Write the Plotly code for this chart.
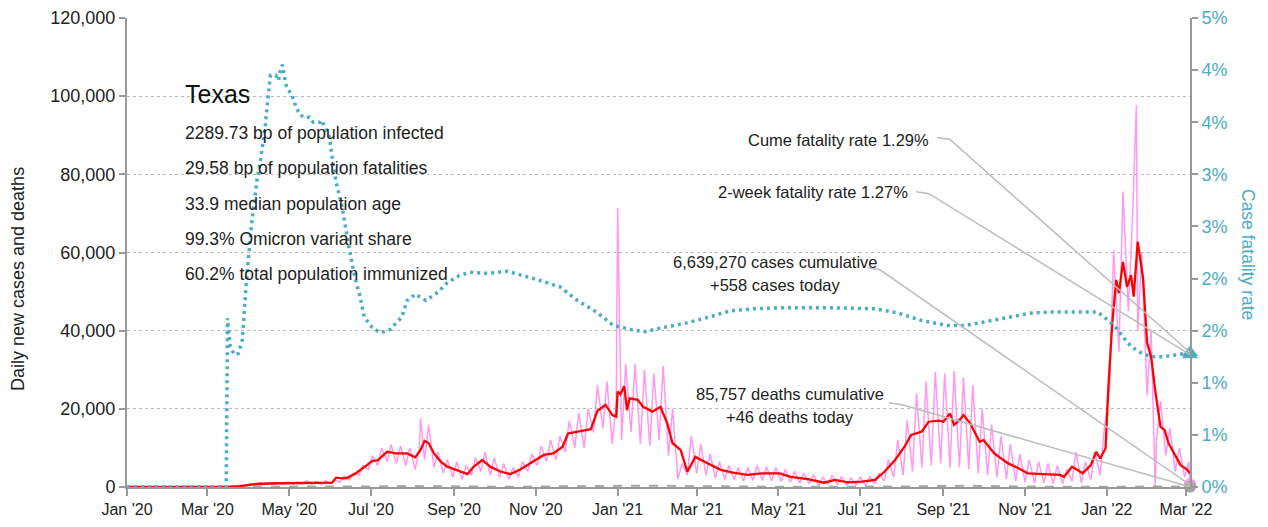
import pandas as pd
import plotly.graph_objects as go

# ---------------- data ----------------
# 7-day average of daily new cases (red line)
avg_dates = ["2020-01-01", "2020-03-01", "2020-03-15", "2020-03-25", "2020-04-05", "2020-04-15",
             "2020-05-01", "2020-05-15", "2020-06-02", "2020-06-05", "2020-06-10", "2020-06-13",
             "2020-06-20", "2020-06-28", "2020-07-02", "2020-07-06", "2020-07-13", "2020-07-20",
             "2020-07-28", "2020-08-03", "2020-08-07", "2020-08-10", "2020-08-13", "2020-08-17",
             "2020-08-22", "2020-08-27", "2020-09-03", "2020-09-11", "2020-09-15", "2020-09-22",
             "2020-09-28", "2020-10-06", "2020-10-13", "2020-10-20", "2020-10-30", "2020-11-07",
             "2020-11-14", "2020-11-21", "2020-11-25", "2020-12-02", "2020-12-12", "2020-12-17",
             "2020-12-23", "2020-12-28", "2020-12-31", "2021-01-01", "2021-01-03", "2021-01-06",
             "2021-01-08", "2021-01-10", "2021-01-16", "2021-01-20", "2021-01-24", "2021-01-27",
             "2021-02-02", "2021-02-07", "2021-02-11", "2021-02-17", "2021-02-22", "2021-02-28",
             "2021-03-09", "2021-03-19", "2021-03-28", "2021-04-08", "2021-04-18", "2021-05-02",
             "2021-05-10", "2021-05-23", "2021-06-04", "2021-06-12", "2021-06-22", "2021-07-02",
             "2021-07-12", "2021-07-19", "2021-07-27", "2021-08-03", "2021-08-08", "2021-08-16",
             "2021-08-21", "2021-08-29", "2021-09-01", "2021-09-06", "2021-09-09", "2021-09-13",
             "2021-09-16", "2021-09-21", "2021-09-28", "2021-10-01", "2021-10-09", "2021-10-19",
             "2021-10-27", "2021-11-03", "2021-11-15", "2021-11-27", "2021-11-30", "2021-12-06",
             "2021-12-14", "2021-12-20", "2021-12-24", "2021-12-27", "2021-12-31", "2022-01-02",
             "2022-01-05", "2022-01-08", "2022-01-10", "2022-01-13", "2022-01-16", "2022-01-19",
             "2022-01-21", "2022-01-24", "2022-01-28", "2022-01-31", "2022-02-03", "2022-02-06",
             "2022-02-10", "2022-02-13", "2022-02-16", "2022-02-20", "2022-02-25", "2022-03-02",
             "2022-03-04"]
avg_cases = [0, 0, 20, 200, 700, 900,
             1000, 1050, 1100, 2400, 2200, 2300,
             3600, 5600, 6700, 6800, 9000, 8600,
             8600, 7600, 9500, 11800, 11200, 8600,
             6500, 5200, 4400, 3300, 5000, 6900,
             5200, 3900, 3300, 4400, 6500, 8200,
             8600, 10300, 13700, 14100, 14800, 19500,
             21000, 18400, 18000, 24400, 23700, 25800,
             19700, 22700, 22300, 20500, 19700, 19300,
             20500, 16300, 11200, 9500, 3900, 7700,
             6100, 4400, 3700, 3100, 3500, 3500,
             2600, 2000, 1100, 1800, 1200, 1400,
             1800, 3900, 6900, 10300, 13300, 14200,
             16700, 17000, 16700, 18800, 15900, 17100,
             18400, 16300, 11600, 12000, 8600, 6100,
             4800, 3500, 3300, 3100, 2600, 5200,
             3500, 5600, 9000, 7300, 9900, 24800,
             41900, 53000, 49600, 57600, 51200, 54200,
             48700, 62800, 53400, 36800, 33300, 24800,
             15400, 14600, 11200, 8600, 5600, 4400,
             3500]

# Daily new cases (pink): weekly low (Mondays) and weekly high (Thursdays), from week of 2020-01-06
week_start = "2020-01-06"
daily_lo = [0, 0, 0, 0,                      # Jan 2020
            0, 0, 0, 0,                      # Feb
            0, 2, 30, 150, 400,              # Mar
            600, 700, 600, 800,              # Apr
            700, 800, 700, 700,              # May
            900, 1200, 1800, 3000, 4500,     # Jun
            5500, 6500, 6000, 5500,          # Jul
            4500, 7000, 5000, 3500, 2500,    # Aug
            2000, 3000, 4000, 3000,          # Sep
            2500, 2000, 2500, 4000,          # Oct
            5500, 6500, 7000, 9000, 10000,   # Nov
            10000, 14000, 15000, 11000,      # Dec
            12000, 14000, 11000, 10500,      # Jan 2021
            12000, 8000, 2000, 3000,         # Feb
            3500, 3000, 2200, 2000, 1800,    # Mar
            1500, 1700, 1700, 1600,          # Apr
            1400, 1200, 1000, 800, 300,      # May
            600, 600, 500, 500,              # Jun
            300, 800, 1500, 2500,            # Jul
            3000, 4000, 5000, 5500, 6000,    # Aug
            5000, 5000, 4500, 3500,          # Sep
            3000, 2500, 2000, 1500,          # Oct
            1200, 1000, 1000, 800, 800,      # Nov
            1500, 1000, 1800, 3000,          # Dec
            25000, 34600, 45000, 40000, 23500,  # Jan 2022
            12000, 8000, 4000, 2500]         # Feb
daily_hi = [0, 0, 0, 0,
            0, 0, 0, 0,
            1, 8, 80, 350, 800,
            1100, 1000, 1000, 1300,
            1300, 1600, 1500, 1600,
            1700, 2800, 3500, 5500, 8000,
            10000, 10800, 10500, 10000,
            9500, 15800, 9000, 7000, 6500,
            5500, 7500, 9000, 7500,
            6000, 5000, 6500, 8500,
            10500, 12000, 13000, 17000, 19000,
            20000, 26000, 27000, 22000,
            31500, 31500, 30000, 29000,
            31000, 20000, 6000, 13000,
            11000, 8500, 6500, 5500, 5000,
            5000, 5500, 5200, 5000,
            4500, 4000, 3500, 3200, 2500,
            3000, 2600, 2300, 2600,
            2800, 3500, 7000, 12000,
            17000, 24000, 27000, 29500, 29000,
            29700, 28000, 26000, 20000,
            16000, 13000, 11000, 8500,
            7000, 6500, 6000, 5500, 4500,
            9000, 6500, 9000, 14600,
            60600, 75600, 67900, 60000, 40000,
            22000, 15000, 10000, 6500]
# single-day reports outside the weekly pattern
extra_dates = ["2020-01-01", "2020-06-04", "2020-08-07", "2021-01-01", "2022-01-23", "2022-02-06", "2022-03-04"]
extra_cases = [0, 7900, 17600, 71400, 97700, 0, 558]

# Daily deaths (grey dashed), weekly (Mondays) from week of 2020-01-06
daily_deaths = [0, 0, 0, 0, 0, 0, 0, 0,
                0, 0, 1, 5, 15,
                25, 35, 30, 30,
                30, 30, 25, 25,
                25, 25, 30, 35, 45,
                80, 120, 170, 250,
                220, 200, 180, 150, 130,
                110, 100, 90, 80,
                70, 70, 75, 80,
                90, 110, 130, 150, 170,
                200, 230, 250, 280,
                300, 330, 350, 380,
                350, 320, 250, 220,
                200, 150, 120, 100, 80,
                60, 55, 50, 45,
                40, 40, 35, 30, 30,
                30, 25, 25, 25,
                25, 30, 40, 60,
                100, 150, 200, 250, 300,
                330, 340, 320, 280,
                230, 180, 150, 110,
                80, 70, 60, 55, 55,
                60, 60, 65, 70,
                80, 100, 140, 180, 220,
                240, 220, 180, 120]

last_date = "2022-03-04"
cases_today = 558
deaths_today = 46
cases_cumulative = 6639270
deaths_cumulative = 85757

# Case fatality rate (%), dotted teal line, right axis
cfr_dates = ["2020-01-01", "2020-03-15", "2020-03-16", "2020-03-18", "2020-03-21", "2020-03-24",
             "2020-03-27", "2020-03-30", "2020-04-03", "2020-04-07", "2020-04-10", "2020-04-13",
             "2020-04-15", "2020-04-17", "2020-04-21", "2020-04-23", "2020-04-25", "2020-04-26",
             "2020-04-28", "2020-04-29", "2020-05-03", "2020-05-06", "2020-05-09", "2020-05-14",
             "2020-05-16", "2020-05-19", "2020-05-24", "2020-05-25", "2020-05-28", "2020-05-31",
             "2020-06-02", "2020-06-05", "2020-06-09", "2020-06-12", "2020-06-15", "2020-06-19",
             "2020-06-23", "2020-06-26", "2020-07-02", "2020-07-08", "2020-07-15", "2020-07-24",
             "2020-07-28", "2020-08-03", "2020-08-11", "2020-08-20", "2020-08-27", "2020-09-05",
             "2020-09-13", "2020-09-26", "2020-10-11", "2020-10-19", "2020-11-02", "2020-11-19",
             "2020-12-02", "2020-12-16", "2020-12-29", "2021-01-11", "2021-01-21", "2021-02-04",
             "2021-02-20", "2021-03-10", "2021-03-26", "2021-04-12", "2021-05-05", "2021-06-08",
             "2021-07-12", "2021-07-29", "2021-08-15", "2021-09-04", "2021-09-17", "2021-09-30",
             "2021-10-20", "2021-11-06", "2021-11-22", "2021-12-12", "2021-12-25", "2021-12-30",
             "2022-01-02", "2022-01-09", "2022-01-16", "2022-01-20", "2022-01-26", "2022-02-03",
             "2022-02-12", "2022-02-23", "2022-03-04"]
cfr_pct = [0, 0, 1.62, 1.35, 1.27, 1.28,
           1.41, 1.96, 2.53, 2.95, 3.17, 3.45,
           3.71, 3.95, 3.95, 3.90, 4.03, 4.05,
           3.90, 3.84, 3.76, 3.65, 3.57, 3.54,
           3.55, 3.50, 3.50, 3.52, 3.45, 3.36,
           3.17, 2.92, 2.72, 2.49, 2.27, 2.01,
           1.82, 1.63, 1.53, 1.48, 1.51, 1.63,
           1.79, 1.85, 1.79, 1.87, 1.96, 2.03,
           2.06, 2.05, 2.07, 2.04, 1.99, 1.92,
           1.79, 1.68, 1.55, 1.51, 1.49, 1.53,
           1.57, 1.63, 1.69, 1.71, 1.72, 1.72,
           1.71, 1.67, 1.60, 1.55, 1.55, 1.58,
           1.63, 1.67, 1.68, 1.68, 1.68, 1.63,
           1.60, 1.51, 1.39, 1.34, 1.29, 1.25,
           1.25, 1.27, 1.29]
cfr_cume = 1.29
cfr_2week = 1.27

cfr_tickvals = [0, 0.5, 1.0, 1.5, 2.0, 2.5, 3.0, 3.5, 4.0, 4.5]
cfr_ticktext = ["0%", "1%", "1%", "2%", "2%", "3%", "3%", "4%", "4%", "5%"]

stats_lines = ["2289.73 bp of population infected",
               "29.58 bp of population fatalities",
               "33.9 median population age",
               "99.3% Omicron variant share",
               "60.2% total population immunized"]

# ---------------- build series ----------------
mondays = pd.date_range(week_start, periods=len(daily_lo), freq="7D")
thursdays = mondays + pd.Timedelta(days=3)
daily = pd.concat([
    pd.Series(daily_lo, index=mondays),
    pd.Series(daily_hi[:len(daily_lo)], index=thursdays),
    pd.Series(extra_cases, index=pd.to_datetime(extra_dates)),
]).sort_index()
daily = daily[~daily.index.duplicated(keep="last")]

dmon = pd.date_range(week_start, periods=len(daily_deaths), freq="7D")
deaths = pd.concat([pd.Series([0], index=pd.to_datetime(["2020-01-01"])),
                    pd.Series(daily_deaths, index=dmon),
                    pd.Series([deaths_today], index=pd.to_datetime([last_date]))]).sort_index()

# ---------------- styling ----------------
FONT = "Liberation Sans, Arial, sans-serif"
PINK = "#ff99f0"
RED = "#ff0000"
TEAL = "#4bacc6"
GREY = "#a6a6a6"
AX = "#999999"
TXT = "#222222"

# page body adds an 8px margin; the figure is sized/offset so the plot area
# lands at window x 127..1190, y 18..487
W, H = 1252, 511
ML, MT = 119, 10
PW, PH = 1063, 469

fig = go.Figure()
fig.add_trace(go.Scatter(x=daily.index, y=daily.values, mode="lines",
                         line=dict(color=PINK, width=1.5), hoverinfo="skip"))
fig.add_trace(go.Scatter(x=deaths.index, y=deaths.values, mode="lines",
                         line=dict(color=GREY, width=2, dash="dash"), hoverinfo="skip"))
fig.add_trace(go.Scatter(x=pd.to_datetime(avg_dates), y=avg_cases, mode="lines",
                         line=dict(color=RED, width=2.3), hoverinfo="skip"))
fig.add_trace(go.Scatter(x=pd.to_datetime(cfr_dates), y=cfr_pct, mode="lines", yaxis="y2",
                         line=dict(color=TEAL, width=3.5, dash="3px,4px"), hoverinfo="skip"))
# end markers
fig.add_trace(go.Scatter(x=[last_date], y=[cases_today], mode="markers", cliponaxis=False,
                         marker=dict(color=PINK, size=13), hoverinfo="skip"))
fig.add_trace(go.Scatter(x=[last_date], y=[deaths_today], mode="markers", cliponaxis=False,
                         marker=dict(color=GREY, size=12), hoverinfo="skip"))
fig.add_trace(go.Scatter(x=[last_date, last_date], y=[cfr_cume, cfr_2week], mode="markers",
                         yaxis="y2", cliponaxis=False,
                         marker=dict(color=TEAL, size=14, symbol="triangle-up"), hoverinfo="skip"))

fig.update_layout(
    template="none",
    width=W, height=H,
    margin=dict(l=ML, r=W - ML - PW, t=MT, b=H - MT - PH, autoexpand=False),
    paper_bgcolor="white", plot_bgcolor="white",
    showlegend=False,
    font=dict(family=FONT, size=17, color=TXT),
    xaxis=dict(type="date", range=["2020-01-01", last_date], dtick="M2", tick0="2020-01-01",
               tickformat="%b '%y", ticks="outside", ticklen=7, tickwidth=2, tickcolor=AX,
               showline=True, linecolor=AX, linewidth=2, showgrid=False, zeroline=False,
               automargin=False, tickfont=dict(size=16, color=TXT)),
    yaxis=dict(range=[0, 120000], dtick=20000, tickformat=",d", ticks="outside", ticklen=6,
               tickwidth=2, tickcolor=AX, showline=True, linecolor=AX, linewidth=2,
               showgrid=True, gridcolor="#bbbbbb", griddash="dot", gridwidth=1, zeroline=False,
               automargin=False, tickfont=dict(size=18, color=TXT)),
    yaxis2=dict(overlaying="y", side="right", range=[0, 4.5], tickvals=cfr_tickvals,
                ticktext=cfr_ticktext, ticks="outside", ticklen=6, tickwidth=2, tickcolor=AX,
                showline=True, linecolor=AX, linewidth=2, showgrid=False, zeroline=False,
                automargin=False, tickfont=dict(size=18, color=TEAL)),
)

# positions given in window pixels -> plot-area paper fractions
def px_x(p):
    return (p - 127) / PW

def px_y(p):
    return (487 - p) / PH

ann = []
ann.append(dict(text="Daily new cases and deaths", xref="paper", yref="paper", x=px_x(18), y=px_y(279),
                textangle=-90, showarrow=False, font=dict(size=18, color=TXT),
                xanchor="center", yanchor="middle"))
ann.append(dict(text="Case fatality rate", xref="paper", yref="paper", x=px_x(1248), y=px_y(254),
                textangle=90, showarrow=False, font=dict(size=17.5, color=TEAL),
                xanchor="center", yanchor="middle"))
ann.append(dict(text="Texas", xref="paper", yref="paper", x=px_x(183), y=px_y(94),
                showarrow=False, font=dict(size=25, color="#111111"), xanchor="left", yanchor="middle"))
for line, yy in zip(stats_lines, [133, 168, 204, 239, 274]):
    ann.append(dict(text=line, xref="paper", yref="paper", x=px_x(183), y=px_y(yy),
                    showarrow=False, font=dict(size=17.5, color=TXT), xanchor="left", yanchor="middle"))
ann.append(dict(text=f"Cume fatality rate {cfr_cume:.2f}%", xref="paper", yref="paper",
                x=px_x(931), y=px_y(140), showarrow=False, font=dict(size=16.5, color=TXT),
                xanchor="right", yanchor="middle"))
ann.append(dict(text=f"2-week fatality rate {cfr_2week:.2f}%", xref="paper", yref="paper",
                x=px_x(910), y=px_y(192), showarrow=False, font=dict(size=16.5, color=TXT),
                xanchor="right", yanchor="middle"))
ann.append(dict(text=f"{cases_cumulative:,} cases cumulative", xref="paper", yref="paper",
                x=px_x(775), y=px_y(262), showarrow=False, font=dict(size=16.5, color=TXT),
                xanchor="center", yanchor="middle"))
ann.append(dict(text=f"+{cases_today:,} cases today", xref="paper", yref="paper",
                x=px_x(775), y=px_y(285), showarrow=False, font=dict(size=16.5, color=TXT),
                xanchor="center", yanchor="middle"))
ann.append(dict(text=f"{deaths_cumulative:,} deaths cumulative", xref="paper", yref="paper",
                x=px_x(790), y=px_y(394), showarrow=False, font=dict(size=16.5, color=TXT),
                xanchor="center", yanchor="middle"))
ann.append(dict(text=f"+{deaths_today} deaths today", xref="paper", yref="paper",
                x=px_x(790), y=px_y(417), showarrow=False, font=dict(size=16.5, color=TXT),
                xanchor="center", yanchor="middle"))
fig.update_layout(annotations=ann)

# leader lines: anchored at each end point, drawn in pixel offsets toward its label
def leader(yref, yval, start, elbow):
    return dict(type="path", xref="x", yref=yref, xsizemode="pixel", ysizemode="pixel",
                xanchor=last_date, yanchor=yval,
                path=f"M {start[0]},{start[1]} L {elbow[0]},{elbow[1]} L 0,0",
                line=dict(color="#bdbdbd", width=1.5), layer="above")

fig.update_layout(shapes=[
    leader("y2", cfr_cume, (-253, 215), (-240, 213)),
    leader("y2", cfr_2week, (-274, 163), (-261, 161)),
    leader("y", cases_today, (-322, 217), (-310, 215)),
    leader("y", deaths_today, (-301, 84), (-288, 82)),
])

fig.write_html("out.html")
